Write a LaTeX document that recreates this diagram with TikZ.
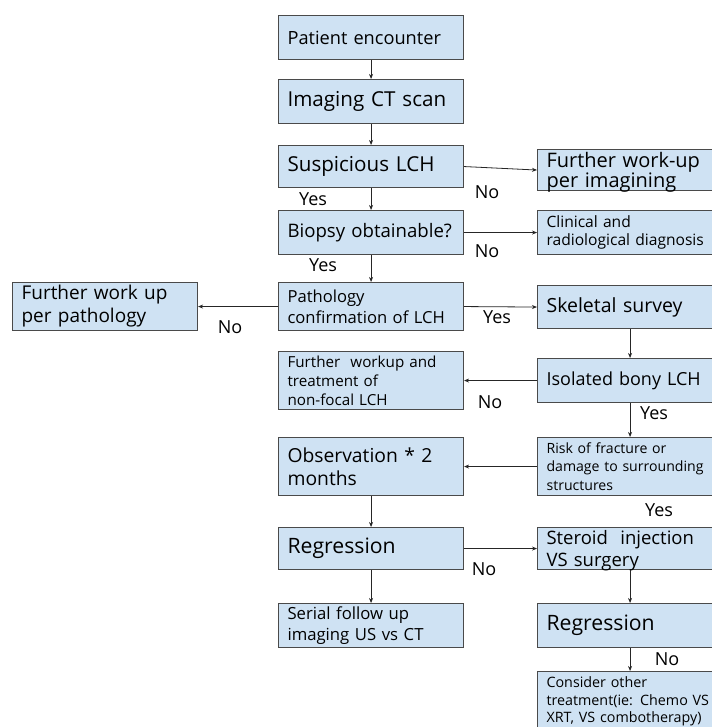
\documentclass[tikz,border=0pt]{standalone}
\usepackage{fontspec}
\setmainfont{Open Sans}
\usetikzlibrary{arrows.meta}
\definecolor{boxblue}{HTML}{CFE2F3}
\definecolor{boxedge}{HTML}{4A4A4A}
\begin{document}
\begin{tikzpicture}[x=1pt,y=-1pt,
  box/.style={draw=boxedge,fill=boxblue,line width=1.1pt,anchor=north west,
    minimum width=185pt,text width=167pt,inner xsep=9pt,inner ysep=1pt,align=left},
  fs/.style 2 args={font=\fontsize{#1}{#2}\selectfont},
  lbl/.style={font=\fontsize{18}{20}\selectfont},
  arr/.style={-{Stealth[length=5pt,width=4pt]},line width=0.8pt,draw=black!85}]
\useasboundingbox[fill=white] (0,0) rectangle (711,727);
% main column
\node[box,fs={18.2}{21},minimum height=44pt] (pat) at (278,15) {Patient encounter};
\node[box,fs={20.6}{23},minimum height=44pt] (img) at (278,79) {Imaging CT scan};
\node[box,fs={20.6}{23},minimum height=42pt] (susp) at (278,145) {Suspicious LCH};
\node[box,fs={18.6}{21},minimum height=44pt] (bio) at (278,210) {Biopsy obtainable?};
\node[box,fs={16.6}{21},minimum height=48pt] (pth) at (278,282) {Pathology\\confirmation of LCH};
\node[box,fs={15.2}{19},minimum height=58pt] (fwn) at (278,351) {Further~ workup and\\treatment of\\non-focal LCH};
\node[box,fs={19.3}{23.3},minimum height=58pt] (obs) at (278,437) {Observation * 2\\months};
\node[box,fs={21.2}{24},minimum height=42pt] (regl) at (278,527) {Regression};
\node[box,fs={16.7}{20.7},minimum height=44pt] (ser) at (278,603) {Serial follow up\\imaging US vs CT};
% left
\node[box,fs={19}{23},minimum height=48pt] (fwp) at (12,282) {Further work up\\per pathology};
% right column
\node[box,fs={20}{20},minimum height=41pt,inner ysep=0pt,text depth=20pt] (fwi) at (537,149) {Further work-up\\per imagining};
\node[box,fs={15.6}{18.3},minimum height=44pt] (crd) at (537,210) {Clinical and\\radiological diagnosis};
\node[box,fs={19.5}{22},minimum height=43pt] (skel) at (537,285) {Skeletal survey};
\node[box,fs={18}{21},minimum height=44pt] (iso) at (537,358) {Isolated bony LCH};
\node[box,fs={14.1}{18.7},minimum height=58pt] (risk) at (537,437) {Risk of fracture or\\damage to surrounding\\structures};
\node[box,fs={18.5}{21.7},minimum height=42pt,inner ysep=0pt,text depth=21.7pt] (ster) at (537,527) {Steroid~ injection\\VS surgery};
\node[box,fs={21.2}{24},minimum height=44pt] (regr) at (537,603) {Regression};
\node[box,fs={14.3}{17.7},minimum height=70pt,text depth=49pt] (cons) at (537,671) {Consider other\\treatment(ie: Chemo VS\\XRT, VS combotherapy)};
% arrows
\draw[arr] (pat) -- (img);
\draw[arr] (img) -- (susp);
\draw[arr] (susp) -- (bio);
\draw[arr] (bio) -- (pth);
\draw[arr] (susp.east) -- (fwi.west);
\draw[arr] (bio.east) -- (crd.west);
\draw[arr] (pth.west) -- (fwp.east);
\draw[arr] (pth.east) -- (skel.west);
\draw[arr] (skel) -- (iso);
\draw[arr] (iso.west) -- (fwn.east);
\draw[arr] (iso) -- (risk);
\draw[arr] (risk.west) -- (obs.east);
\draw[arr] (obs) -- (regl);
\draw[arr] (regl) -- (ser);
\draw[arr] (regl.east) -- (ster.west);
\draw[arr] (ster) -- (regr);
\draw[arr] (regr) -- (cons);
% yes / no
\node[lbl] (y1) at (313,199) {Yes};
\node[lbl] (y2) at (323,265) {Yes};
\node[lbl] (n1) at (487,192) {No};
\node[lbl] (n2) at (487,251) {No};
\node[lbl] (n3) at (230,327) {No};
\node[lbl] (y3) at (497,317) {Yes};
\node[lbl] (n4) at (490,402) {No};
\node[lbl] (y4) at (654,413) {Yes};
\node[lbl] (y5) at (659,510) {Yes};
\node[lbl] (n5) at (484,569) {No};
\node[lbl] (n6) at (667,659) {No};
\end{tikzpicture}
\end{document}
